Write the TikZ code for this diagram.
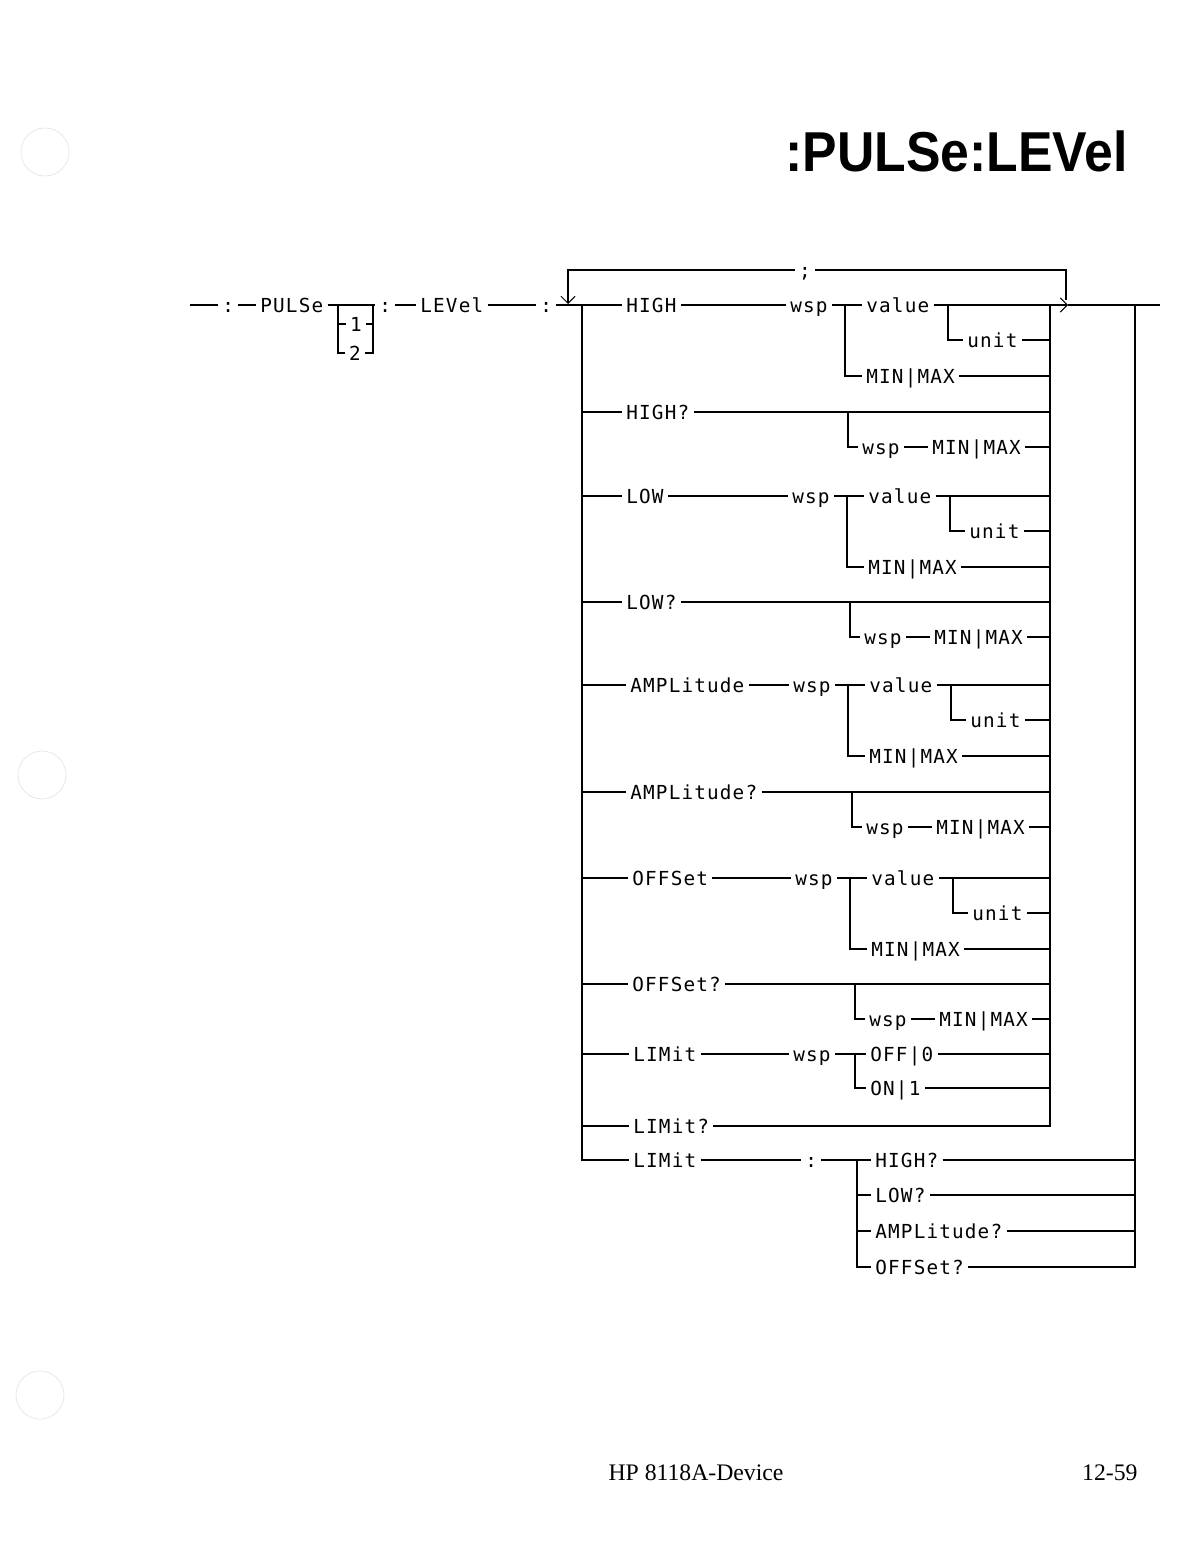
\documentclass[tikz,border=0pt]{standalone}
\usepackage{fontspec}
\usetikzlibrary{arrows.meta,positioning}
\newfontfamily\plotfont[LetterSpace=6]{DejaVu Sans Mono}
\newfontfamily\titlefont[FakeStretch=0.92]{Liberation Sans}
\newfontfamily\footfont{Liberation Serif}

\begin{document}
\begin{tikzpicture}[x=0.02cm,y=-0.02cm,line width=0.6pt,
  lbl/.style={inner xsep=2.2pt,inner ysep=0pt,anchor=west,text height=8pt,text depth=0pt,font={\plotfont\fontsize{11}{13}\selectfont}},
  barb/.style={-{Straight Barb[length=4pt,width=8pt]}}]
\useasboundingbox (0,0) rectangle (1176,1544);
\foreach \cx/\cy in {45/152,42/775,40/1395}{\draw[black!10,line width=0.4pt] (\cx,\cy) circle (24);}
\node[anchor=base east,inner sep=0pt,font={\titlefont\bfseries\fontsize{32}{38}\selectfont}] (title) at (1128,172){:PULSe:LEVel};
\node[anchor=base,inner sep=0pt,font={\footfont\fontsize{13.5}{16}\selectfont}] (foot) at (696,1480){HP 8118A-Device};
\node[anchor=base east,inner sep=0pt,font={\footfont\fontsize{13.5}{16}\selectfont}] (page) at (1138,1480){12-59};
\coordinate (start) at (190,305);
\coordinate (bxl) at (338,305);
\coordinate (bxr) at (373,305);
\coordinate (lbus) at (582,305);
\coordinate (ibus) at (1050,305);
\coordinate (obus) at (1135,305);
\coordinate (chev) at (1068,305);
\coordinate (finish) at (1160,305);
\coordinate (lpL) at (568,270);
\coordinate (lpLdn) at (568,304);
\coordinate (lpR) at (1066,270);
\coordinate (lpRdn) at (1066,300);
\node[lbl] (c0) at (218,305){:};
\node[lbl] (pulse) at (256,305){PULSe};
\node[lbl,anchor=center] (one) at (356,324){1};
\node[lbl,anchor=center] (two) at (355,353){2};
\node[lbl] (c1) at (375,305){:};
\node[lbl] (level) at (416,305){LEVel};
\node[lbl] (c2) at (536,305){:};
\node[lbl,anchor=center] (semi) at (805,270){;};
\draw (start) -- (c0) -- (pulse);
\draw (pulse.east) -- (bxl) -- (bxr) -- (c1) -- (level) -- (c2);
\draw (two.west) -| (bxl);
\draw (two.east) -| (bxr);
\draw (bxl |- one) -- (one.west);
\draw (one.east) -- (bxr |- one);
\draw (c2.east) -- (lbus);
\draw[barb] (semi.west) -| (lpLdn);
\draw (semi.east) -| (lpRdn);
\draw[barb] (ibus) -- (chev);
\draw (chev) -- (finish);
\foreach \n/\kw/\y/\k/\d in {hi/HIGH/305/627/0,lo/LOW/496/627/2,am/AMPLitude/685/631/3,of/OFFSet/878/633/5}{
  \node[lbl] (kw\n) at (\k-5,\y){\kw};
  \node[lbl] (wsp\n) at (786+\d,\y){wsp};
  \node[lbl] (val\n) at (862+\d,\y){value};
  \node[lbl] (unit\n) at (963+\d,\y+35){unit};
  \node[lbl] (mm\n) at (862+\d,\y+71){MIN|MAX};
  \coordinate (sp\n) at (845+\d,\y);
  \coordinate (us\n) at (948+\d,\y);
  \draw (lbus |- kw\n) -- (kw\n) -- (wsp\n) -- (val\n) -- (ibus |- val\n);
  \draw (sp\n) |- (mm\n);
  \draw (us\n) |- (unit\n);
  \draw (unit\n) -- (ibus |- unit\n);
  \draw (mm\n) -- (ibus |- mm\n);
}
\foreach \n/\kw/\y/\k/\d in {hi/HIGH?/412/627/0,lo/LOW?/602/627/2,am/AMPLitude?/792/631/4,of/OFFSet?/984/633/7}{
  \node[lbl] (q\n) at (\k-5,\y){\kw};
  \node[lbl] (qw\n) at (858+\d,\y+35){wsp};
  \node[lbl] (qm\n) at (928+\d,\y+35){MIN|MAX};
  \coordinate (qs\n) at (848+\d,\y);
  \draw (lbus |- q\n) -- (q\n) -- (ibus |- q\n);
  \draw (qs\n) |- (qw\n);
  \draw (qw\n) -- (qm\n) -- (ibus |- qm\n);
}
\node[lbl] (lim) at (629,1054){LIMit};
\node[lbl] (limw) at (789,1054){wsp};
\node[lbl] (off) at (866,1054){OFF|0};
\node[lbl] (on) at (866,1088){ON|1};
\coordinate (limsp) at (855,1054);
\draw (lbus |- lim) -- (lim) -- (limw) -- (off) -- (ibus |- off);
\draw (limsp) |- (on);
\draw (on) -- (ibus |- on);
\node[lbl] (limq) at (629,1126){LIMit?};
\draw (lbus |- limq) -- (limq) -- (ibus |- limq) -- (ibus);
\node[lbl] (limc) at (629,1160){LIMit};
\node[lbl] (c3) at (801,1160){:};
\node[lbl] (lhi) at (871,1160){HIGH?};
\node[lbl] (llo) at (871,1195){LOW?};
\node[lbl] (lam) at (871,1231){AMPLitude?};
\node[lbl] (lof) at (871,1267){OFFSet?};
\coordinate (lsp) at (857,1160);
\draw (lbus) |- (limc);
\draw (limc) -- (c3) -- (lhi) -- (obus |- lhi);
\draw (lsp) |- (lof);
\foreach \m in {llo,lam}{\draw (lsp |- \m) -- (\m) -- (obus |- \m);}
\draw (lof) -| (obus);
\end{tikzpicture}
\end{document}
